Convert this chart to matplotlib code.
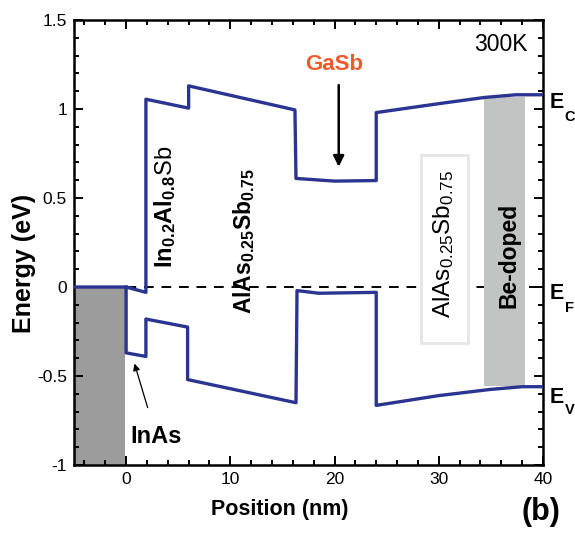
import matplotlib
matplotlib.use("Agg")
import matplotlib.pyplot as plt
from matplotlib.patches import Rectangle
from matplotlib.ticker import MultipleLocator, FuncFormatter

plt.rcParams['font.family'] = ['Liberation Sans', 'DejaVu Sans']
plt.rcParams['mathtext.fontset'] = 'custom'
plt.rcParams['mathtext.rm'] = 'Liberation Sans'
plt.rcParams['mathtext.bf'] = 'Liberation Sans:bold'
plt.rcParams['mathtext.it'] = 'Liberation Sans:italic'

# banda de conduccion (posicion nm, energia eV)
ec_x = [-5, 0, 1.9, 1.9, 6.0, 6.0, 16.2, 16.3, 20, 24, 24, 30, 34.4, 37.4, 40]
ec_e = [0.0, 0.0, -0.03, 1.055, 1.005, 1.13, 0.995, 0.61, 0.595, 0.598, 0.98, 1.03, 1.065, 1.08, 1.08]

# banda de valencia
ev_x = [0, 0, 1.9, 1.9, 5.9, 5.9, 16.3, 16.4, 18.5, 24, 24, 30, 35, 38, 40]
ev_e = [0.0, -0.37, -0.39, -0.18, -0.225, -0.52, -0.65, -0.02, -0.035, -0.03, -0.665, -0.61, -0.575, -0.56, -0.56]

# etiquetas de bandas: subindice, energia de la E, energia del subindice
bandas = [('C', 1.008, 0.93), ('F', -0.07, -0.143), ('V', -0.65, -0.716)]

azul = '#2b3591'

fig = plt.figure(figsize=(5.75, 5.35), dpi=100)
ax = fig.add_axes([0.1287, 0.1308, 0.8156, 0.8318])

ax.set_xlim(-5, 40)
ax.set_ylim(-1, 1.5)

# region InAs
ax.add_patch(Rectangle((-4.9, -1), 4.8, 1.0, facecolor='#9c9c9c', edgecolor='none', zorder=1))
# region dopada con Be
ax.add_patch(Rectangle((34.3, -0.557), 4.0, 1.623, facecolor='#c2c3c3', edgecolor='none', zorder=3))
# caja AlAsSb
ax.add_patch(Rectangle((28.3, -0.317), 4.5, 1.061, facecolor='white', edgecolor='#e6e6e6', lw=2, zorder=3))

ax.axhline(0, color='black', ls=(0, (5, 4)), lw=1.4, zorder=2)

ax.plot(ec_x, ec_e, color=azul, lw=2.4, zorder=4)
ax.plot(ev_x, ev_e, color=azul, lw=2.4, zorder=4)

ax.xaxis.set_major_locator(MultipleLocator(10))
ax.xaxis.set_minor_locator(MultipleLocator(2))
ax.yaxis.set_major_locator(MultipleLocator(0.5))
ax.yaxis.set_minor_locator(MultipleLocator(0.1))
ax.yaxis.set_major_formatter(FuncFormatter(lambda v, p: f'{v:g}'))
ax.xaxis.set_major_formatter(FuncFormatter(lambda v, p: f'{v:g}'))
ax.tick_params(which='both', direction='in', top=True, right=True, width=1.4, labelsize=12.5)
ax.tick_params(which='major', length=6.5, pad=5)
ax.tick_params(which='minor', length=3.5)
for s in ax.spines.values():
    s.set_linewidth(1.8)

ax.set_xlabel('Position (nm)', fontsize=15.5, fontweight='bold')
ax.set_ylabel('Energy (eV)', fontsize=18, fontweight='bold')
ax.xaxis.set_label_coords(0.439, -0.101)
ax.xaxis.label.set_va('center')
ax.yaxis.set_label_coords(-0.107, 0.454)
ax.yaxis.label.set_va('center')

ax.text(38.5, 1.36, '300K', fontsize=16.5, ha='right', va='center')
ax.text(20.0, 1.25, 'GaSb', fontsize=16, fontweight='bold', color='#f15a2b', ha='center', va='center')
ax.annotate('', xy=(20.4, 0.66), xytext=(20.4, 1.15),
            arrowprops=dict(arrowstyle='-|>', color='black', lw=1.8, mutation_scale=16))
ax.annotate('InAs', xy=(0.8, -0.43), xytext=(2.9, -0.84), fontsize=17, fontweight='bold',
            ha='center', va='center',
            arrowprops=dict(arrowstyle='-|>', color='black', lw=0.9, mutation_scale=10,
                            shrinkA=11, shrinkB=0))

ax.text(3.7, 0.45, r'$\mathbf{In}_{\mathbf{0.2}}\mathbf{Al}_{\mathbf{0.8}}\mathrm{Sb}$', rotation=90,
        fontsize=17, ha='center', va='center', zorder=5)
ax.text(11.3, 0.26, r'$\mathbf{AlAs}_{\mathbf{0.25}}\mathbf{Sb}_{\mathbf{0.75}}$', rotation=90,
        fontsize=16.5, ha='center', va='center', zorder=5)
ax.text(30.5, 0.24, r'AlAs$_{0.25}$Sb$_{0.75}$', rotation=90,
        fontsize=17.5, ha='center', va='center', zorder=5)
ax.text(36.7, 0.18, 'Be-doped', rotation=90, fontsize=16.5, fontweight='bold',
        ha='center', va='center', zorder=5)

# etiquetas de bandas a la derecha (E grande + subindice aparte)
for sub, y_e, y_sub in bandas:
    ax.text(40.65, y_e, 'E', fontsize=15.5, fontweight='bold', ha='left', va='baseline', clip_on=False)
    ax.text(42.1, y_sub, sub, fontsize=10.5, fontweight='bold', ha='left', va='baseline', clip_on=False)

fig.text(0.975, 0.043, '(b)', fontsize=22, fontweight='bold', ha='right', va='center')

fig.savefig('out.png', dpi=100)
